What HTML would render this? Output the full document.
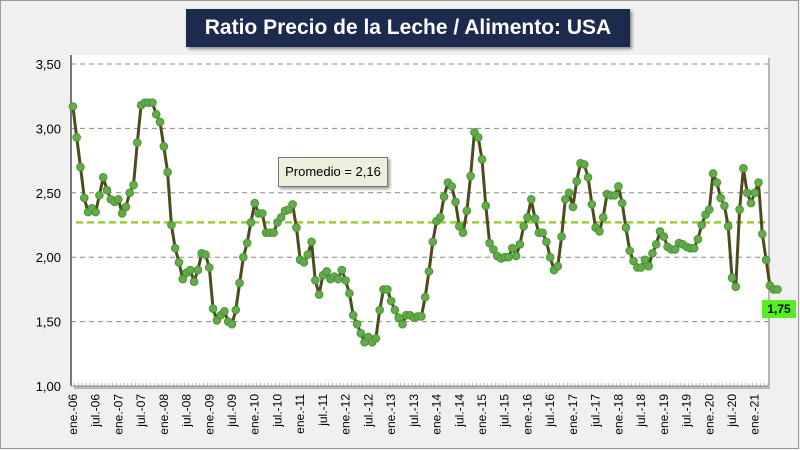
<!DOCTYPE html>
<html><head><meta charset="utf-8"><style>
html,body{margin:0;padding:0;}
body{width:800px;height:450px;background:#efefef;font-family:"Liberation Sans",sans-serif;position:relative;overflow:hidden;}
</style></head><body>
<div style="position:absolute;left:0;top:0;width:797px;height:447px;border:1px solid #9a9a9a;background:#f0f0f0;"></div>
<svg id="chart" width="800" height="450" style="position:absolute;left:0;top:0;" font-family="Liberation Sans, sans-serif"></svg>
<div style="position:absolute;left:186px;top:9px;width:444px;height:38px;background:#1c2a4d;color:#fff;font-weight:bold;font-size:21px;line-height:38px;text-align:center;white-space:nowrap;box-shadow:2px 2px 3px #888;">Ratio Precio de la Leche / Alimento: USA</div>
<div style="position:absolute;left:278px;top:157px;width:108px;height:28px;background:#eeeedd;border:1px solid #777;font-size:13px;line-height:28px;text-align:center;box-shadow:2px 2px 3px #999;">Promedio = 2,16</div>
<div style="position:absolute;left:762px;top:300px;width:34px;height:18px;background:#55ee22;font-weight:bold;font-size:12px;line-height:18px;text-align:center;">1,75</div>
<script>
const values=[3.17,2.93,2.70,2.46,2.35,2.38,2.35,2.48,2.62,2.52,2.45,2.43,2.45,2.34,2.39,2.50,2.56,2.89,3.18,3.20,3.20,3.20,3.11,3.05,2.86,2.66,2.25,2.07,1.96,1.83,1.88,1.90,1.81,1.90,2.03,2.02,1.92,1.60,1.51,1.55,1.58,1.50,1.48,1.59,
1.80,2.00,2.11,2.27,2.42,2.34,2.34,2.19,2.19,2.19,2.27,2.31,2.36,2.37,2.41,2.23,1.98,1.96,2.02,2.12,1.82,1.71,1.86,1.89,1.83,1.85,1.83,1.90,1.82,1.72,1.55,1.48,1.41,1.34,1.38,1.34,1.37,1.59,1.75,1.75,1.66,1.59,1.53,1.48,1.55,1.55,1.53,1.54,1.54,1.69,
1.89,2.12,2.28,2.31,2.47,2.58,2.55,2.43,2.24,2.19,2.36,2.63,2.97,2.93,2.76,2.40,2.11,2.06,2.01,1.99,2.00,2.00,2.07,2.01,2.10,2.24,2.31,2.45,2.30,2.19,2.19,2.12,2.00,1.90,1.93,2.16,2.45,2.50,2.39,2.59,2.73,2.72,2.62,2.41,2.23,2.20,2.31,2.49,
2.48,2.48,2.55,2.42,2.23,2.05,1.97,1.92,1.92,1.98,1.93,2.03,2.10,2.20,2.16,2.08,2.06,2.06,2.11,2.10,2.08,2.07,2.07,2.14,2.25,2.33,2.37,2.65,2.58,2.46,2.40,2.24,1.84,1.77,2.37,2.69,2.50,2.42,2.50,2.58,2.18,1.98,1.78,1.75,1.75];
const yTicks=[1.00,1.50,2.00,2.50,3.00,3.50];
const xTickLabels=[];
const yrs=['06','07','08','09','10','11','12','13','14','15','16','17','18','19','20','21'];
yrs.forEach(y=>{xTickLabels.push('ene.-'+y); if(y!=='21') xTickLabels.push('jul.-'+y);});
const average=2.27;
const nMonths=184;

const svg=document.getElementById('chart');
const NS='http://www.w3.org/2000/svg';
const L=71,R=768,T=64,B=386,ymin=1,ymax=3.5;
const mw=(R-L)/nMonths;
const xs=i=>L+(i+0.5)*mw;
const ys=v=>B-(v-ymin)/(ymax-ymin)*(B-T);
function mk(t,a){const e=document.createElementNS(NS,t);for(const k in a)e.setAttribute(k,a[k]);svg.appendChild(e);return e;}
let pa=mk('rect',{x:L+3,y:58,width:R-L-1,height:B-58+3,fill:'#b8b8b8'});


let p=mk('rect',{x:L,y:55,width:R-L,height:B-55,fill:'#fff'});


yTicks.forEach(v=>{
  if(v>1.0){
    const g=mk('line',{x1:L,x2:R,y1:ys(v),y2:ys(v),stroke:'#8a8a8a','stroke-dasharray':'5,4','stroke-width':1});
    
    
  }
  const t=mk('text',{x:L-10,y:ys(v)+5,'text-anchor':'end','font-size':13,fill:'#000'});
  t.textContent=v.toFixed(2).replace('.',',');
  
  
});
let ax=mk('line',{x1:L,x2:L,y1:55,y2:B,stroke:'#777','stroke-width':2});


let bx=mk('line',{x1:L,x2:R,y1:B,y2:B,stroke:'#888','stroke-width':1});


for(let m=0;m<=nMonths;m++){
  const tk=mk('line',{x1:L+m*mw,x2:L+m*mw,y1:B,y2:B-3,stroke:'#999','stroke-width':0.7});
  
  
}
xTickLabels.forEach((lab,k)=>{
  const x=xs(k*6);
  const t=mk('text',{x:0,y:0,'text-anchor':'end','font-size':12,fill:'#000',transform:`translate(${x+4},${B+8}) rotate(-90)`});
  t.textContent=lab;
  
  
});
let av=mk('line',{x1:L+5,x2:R,y1:ys(average),y2:ys(average),stroke:'#9acd3c','stroke-width':2.5,'stroke-dasharray':'7,4'});


const pts=values.map((v,i)=>xs(i).toFixed(1)+','+ys(v).toFixed(1)).join(' ');
let pl=mk('polyline',{points:pts,fill:'none',stroke:'#4f4a1e','stroke-width':3,'stroke-linejoin':'round'});


values.forEach((v,i)=>{
  const c=mk('circle',{cx:xs(i),cy:ys(v),r:3.8,fill:'#6aa84f',stroke:'#3f9a2a','stroke-width':1});
  
  
});
</script>
</body></html>
